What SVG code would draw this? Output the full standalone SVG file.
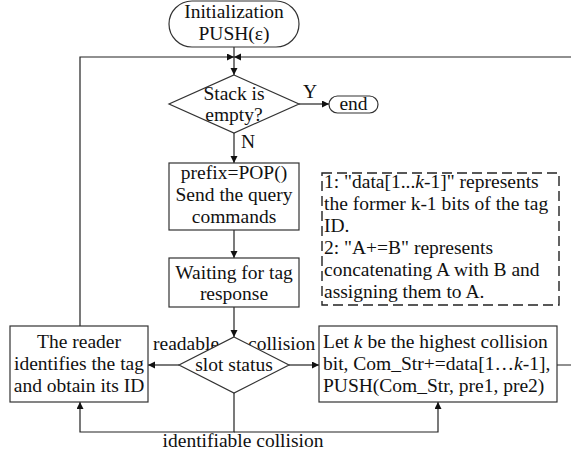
<svg xmlns="http://www.w3.org/2000/svg" width="571" height="456" viewBox="0 0 571 456">
<style>
.s{fill:#fff;stroke:#333;stroke-width:1.2}
.c{fill:none;stroke:#222;stroke-width:1.2}
text{font-family:"Liberation Serif","Times New Roman",serif;font-size:19.5px;fill:#111}
.m{text-anchor:middle}
.i{font-style:italic}
</style>
<defs>
<marker id="a" markerUnits="userSpaceOnUse" markerWidth="8" markerHeight="8" refX="7" refY="3.5" orient="auto">
<path d="M0,0 L7,3.5 L0,7 z" fill="#111"/>
</marker>
</defs>
<g id="connectors">
<path class="c" d="M234,47 V75" marker-end="url(#a)"/>
<path class="c" d="M80,326 V57 H234" marker-end="url(#a)"/>
<path class="c" d="M557,365 H572 V57 H234" marker-end="url(#a)"/>
<path class="c" d="M299,104 H329" marker-end="url(#a)"/>
<path class="c" d="M234,133 V163" marker-end="url(#a)"/>
<path class="c" d="M234,230 V258" marker-end="url(#a)"/>
<path class="c" d="M234,307 V337" marker-end="url(#a)"/>
<path class="c" d="M179,365 H148" marker-end="url(#a)"/>
<path class="c" d="M289,365 H319" marker-end="url(#a)"/>
<path class="c" d="M234,393 V432 H80 V402" marker-end="url(#a)"/>
<path class="c" d="M234,432 H438 V402" marker-end="url(#a)"/>
<text x="303" y="98">Y</text>
<text x="241" y="148">N</text>
<text x="153" y="350">readable</text>
<text x="248" y="350">collision</text>
<text x="243" y="447" class="m">identifiable collision</text>
</g>
<g id="start">
<rect class="s" x="169" y="1" width="130" height="46" rx="23"/>
<text x="234" y="18" class="m">Initialization</text>
<text x="234" y="40" class="m">PUSH(ε)</text>
</g>
<g id="stack-empty">
<path class="s" d="M234,75 L299,104 L234,133 L169,104 z"/>
<text x="234" y="100" class="m">Stack is</text>
<text x="234" y="121" class="m">empty?</text>
</g>
<g id="end">
<rect class="s" x="329" y="96" width="49" height="17" rx="8.5"/>
<text x="353.5" y="110" class="m">end</text>
</g>
<g id="pop">
<rect class="s" x="169" y="163" width="130" height="67"/>
<text x="234" y="179" class="m">prefix=POP()</text>
<text x="234" y="201" class="m">Send the query</text>
<text x="234" y="223" class="m">commands</text>
</g>
<g id="wait">
<rect class="s" x="169" y="258" width="130" height="49"/>
<text x="234" y="279" class="m">Waiting for tag</text>
<text x="234" y="300" class="m">response</text>
</g>
<g id="note">
<rect x="322" y="173" width="237" height="132" fill="none" stroke="#222" stroke-width="1.4" stroke-dasharray="10,5"/>
<text x="324" y="188">1: "data[1...<tspan class="i">k</tspan>-1]" represents</text>
<text x="324" y="210">the former k-1 bits of the tag</text>
<text x="324" y="232">ID.</text>
<text x="324" y="254">2: "A+=B" represents</text>
<text x="324" y="276">concatenating A with B and</text>
<text x="324" y="298">assigning them to A.</text>
</g>
<g id="slot-status">
<path class="s" d="M234,337 L289,365 L234,393 L179,365 z"/>
<text x="234" y="371" class="m">slot status</text>
</g>
<g id="reader">
<rect class="s" x="10" y="326" width="138" height="76"/>
<text x="79" y="348" class="m">The reader</text>
<text x="79" y="370" class="m">identifies the tag</text>
<text x="79" y="392" class="m">and obtain its ID</text>
</g>
<g id="collision-box">
<rect class="s" x="319" y="326" width="238" height="76"/>
<text x="323" y="348">Let <tspan class="i">k</tspan> be the highest collision</text>
<text x="323" y="370">bit, Com_Str+=data[1…<tspan class="i">k</tspan>-1],</text>
<text x="323" y="392">PUSH(Com_Str, pre1, pre2)</text>
</g>
</svg>
